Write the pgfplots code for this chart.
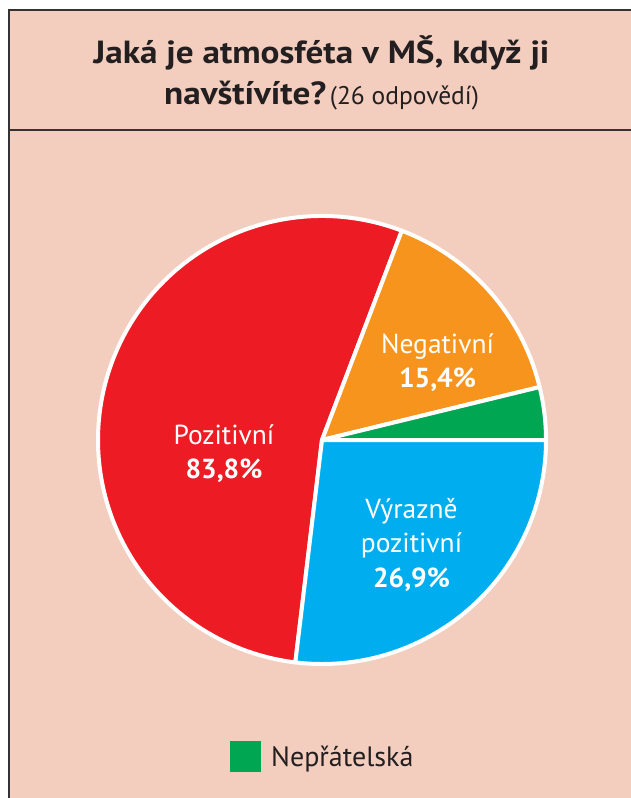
\documentclass[border=0pt]{standalone}
\usepackage{pgfplots}
\pgfplotsset{compat=1.18}
\usepackage{pgfplotstable}
\usepackage{fontspec}
\setmainfont{PT Sans}
\newfontfamily\titlefont[FakeStretch=1.1]{PT Sans}
\definecolor{bg}{RGB}{243,206,190}
\definecolor{frame}{RGB}{55,50,50}
\definecolor{cRed}{RGB}{237,28,36}
\definecolor{cOrange}{RGB}{247,148,29}
\definecolor{cGreen}{RGB}{0,166,81}
\definecolor{cBlue}{RGB}{0,174,239}
\definecolor{txt}{RGB}{35,31,32}
\pgfplotstableread{
label value
VyraznePozitivni 26.9
Nepratelska 3.8
Negativni 15.4
Pozitivni 53.9
}\piedata
\begin{document}
\begin{tikzpicture}[x=1bp,y=-1bp]
\pgfplotstablegetelem{0}{value}\of\piedata \let\vA\pgfplotsretval
\pgfplotstablegetelem{1}{value}\of\piedata \let\vB\pgfplotsretval
\pgfplotstablegetelem{2}{value}\of\piedata \let\vC\pgfplotsretval
\pgfplotstablegetelem{3}{value}\of\piedata \let\vD\pgfplotsretval
\pgfmathsetmacro\aBlue{-3.6*\vA}
\pgfmathsetmacro\aGreen{3.6*\vB}
\pgfmathsetmacro\aOrange{\aGreen+3.6*\vC}
\pgfmathsetmacro\aRed{\aOrange+3.6*\vD}
\useasboundingbox (0,0) rectangle (631,798);
\fill[white] (0,0) rectangle (631,798);
\fill[bg] (9,10) rectangle (631,798);
\draw[frame, line width=1.8bp] (9,798) -- (9,10) -- (631,10);
\draw[frame, line width=1.8bp] (9,130) -- (631,130);
\node[anchor=base, text=txt, inner sep=0pt, font=\titlefont\bfseries\fontsize{32bp}{37bp}\selectfont] at (321.5,63.5) {Jaká je atmosféta v MŠ, když ji};
\node[anchor=base, text=txt, inner sep=0pt] at (321.5,104.5) {{\titlefont\bfseries\fontsize{32bp}{37bp}\selectfont navštívíte?} {\fontsize{25.5bp}{30bp}\selectfont (26~odpovědí)}};
\begin{axis}[at={(322bp,-440bp)}, anchor=origin, x=1bp, y=1bp, hide axis, clip=false,
  xmin=-224, xmax=224, ymin=-224, ymax=224]
\fill[cRed, draw=white, line width=4bp, line join=round] (axis cs:0,0) -- ++(\aOrange:224bp) arc[start angle=\aOrange, end angle=\aRed, radius=224bp] -- cycle;
\fill[cOrange, draw=white, line width=4bp, line join=round] (axis cs:0,0) -- ++(\aGreen:224bp) arc[start angle=\aGreen, end angle=\aOrange, radius=224bp] -- cycle;
\fill[cGreen, draw=white, line width=4bp, line join=round] (axis cs:0,0) -- ++(0:224bp) arc[start angle=0, end angle=\aGreen, radius=224bp] -- cycle;
\fill[cBlue, draw=white, line width=4bp, line join=round] (axis cs:0,0) -- ++(0:224bp) arc[start angle=0, end angle=\aBlue, radius=224bp] -- cycle;
\end{axis}
\begin{scope}[every node/.style={anchor=base, text=white, inner sep=0pt, font=\fontsize{27.5bp}{32bp}\selectfont}]
\node at (224,444) {Pozitivní};
\node[font=\bfseries\fontsize{27.5bp}{32bp}\selectfont] at (224,478) {83,8\%};
\node at (437.5,353) {Negativní};
\node[font=\bfseries\fontsize{27.5bp}{32bp}\selectfont] at (437.5,387) {15,4\%};
\node at (411.5,518) {Výrazně};
\node at (411.5,552) {pozitivní};
\node[font=\bfseries\fontsize{27.5bp}{32bp}\selectfont] at (411.5,587) {26,9\%};
\end{scope}
\fill[cGreen] (230,741) rectangle (261,772);
\node[anchor=base west, inner sep=0pt, text=txt, font=\fontsize{28bp}{32bp}\selectfont] at (271,766) {Nepřátelská};
\end{tikzpicture}
\end{document}
